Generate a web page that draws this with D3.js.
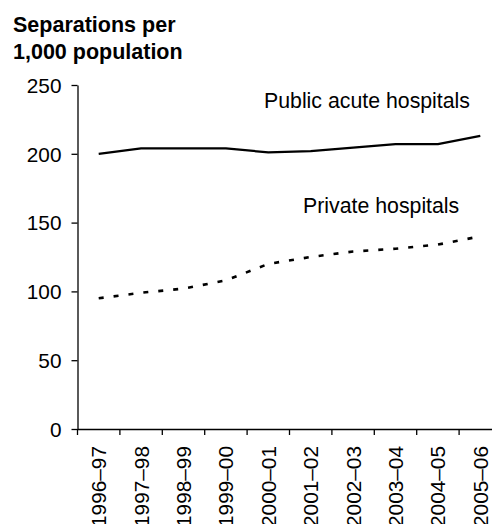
<!DOCTYPE html>
<html>
<head>
<meta charset="utf-8">
<script src="https://cdn.jsdelivr.net/npm/d3@7"></script>
<style>
  html, body { margin: 0; padding: 0; background: #fff; }
  svg { display: block; }
  text { font-family: "Liberation Sans", Arial, sans-serif; fill: #000; }
</style>
</head>
<body>
<svg id="chart" width="492" height="524"></svg>
<script>
const years = ["1996–97","1997–98","1998–99","1999–00","2000–01","2001–02","2002–03","2003–04","2004–05","2005–06"];
const publicAcute = [200, 204, 204, 204, 201, 202, 204.5, 207, 207, 213];
const privateHosp = [95, 99, 102, 108, 120, 125, 129, 131, 134, 140];
const yTicks = [0, 50, 100, 150, 200, 250];
const titleLines = ["Separations per", "1,000 population"];
const seriesLabels = ["Public acute hospitals", "Private hospitals"];

(function () {
const svg = d3.select("#chart");
const mLeft = 77.5, mRight = 501.5, mTop = 85, mBottom = 429;

const x = d3.scaleBand().domain(years).range([mLeft, mRight]).paddingInner(0).paddingOuter(0);
const y = d3.scaleLinear().domain([0, 250]).range([mBottom, mTop]);

// Title
svg.append("text").attr("x", 13).attr("y", 31.5)
  .style("font-weight", "bold").style("font-size", "21.5px").text(titleLines[0]);
svg.append("text").attr("x", 13).attr("y", 59)
  .style("font-weight", "bold").style("font-size", "21.5px").text(titleLines[1]);

// Y axis
const yAxis = svg.append("g").attr("transform", `translate(${mLeft},0)`)
  .call(d3.axisLeft(y).tickValues(yTicks).tickSize(6).tickSizeOuter(0).tickPadding(10));
yAxis.selectAll("text").style("font-size", "20.8px").attr("dy", "0.35em");
yAxis.selectAll("line, path").attr("stroke", "#000").attr("stroke-width", 1.3);

// X axis (labels at band centres, ticks at band boundaries)
const xAxis = svg.append("g").attr("transform", `translate(0,${mBottom})`)
  .call(d3.axisBottom(x).tickSize(0).tickSizeOuter(0).tickPadding(0));
xAxis.select(".domain").attr("stroke", "#000").attr("stroke-width", 1.3);
xAxis.selectAll(".tick line").remove();
xAxis.selectAll("text")
  .style("font-size", "20.8px")
  .attr("text-anchor", "end")
  .attr("transform", "rotate(-90)")
  .attr("x", -17)
  .attr("y", 0)
  .attr("dy", "0.36em");
xAxis.selectAll(".boundary").data(years).enter().append("line")
  .attr("class", "boundary")
  .attr("x1", d => x(d)).attr("x2", d => x(d))
  .attr("y1", 0).attr("y2", 6)
  .attr("stroke", "#000").attr("stroke-width", 1.3);

// Lines
const line = d3.line().x((d, i) => x(years[i]) + x.bandwidth() / 2).y(d => y(d));

svg.append("path").datum(publicAcute)
  .attr("d", line).attr("fill", "none").attr("stroke", "#000")
  .attr("stroke-width", 2.2).attr("stroke-linejoin", "round");

svg.append("path").datum(privateHosp)
  .attr("d", line).attr("fill", "none").attr("stroke", "#000")
  .attr("stroke-width", 2.6).attr("stroke-dasharray", "5,10");

// Series labels
svg.append("text").attr("x", 264).attr("y", 108).style("font-size", "21.3px").text(seriesLabels[0]);
svg.append("text").attr("x", 303).attr("y", 213).style("font-size", "21.3px").text(seriesLabels[1]);
})();
</script>
</body>
</html>
